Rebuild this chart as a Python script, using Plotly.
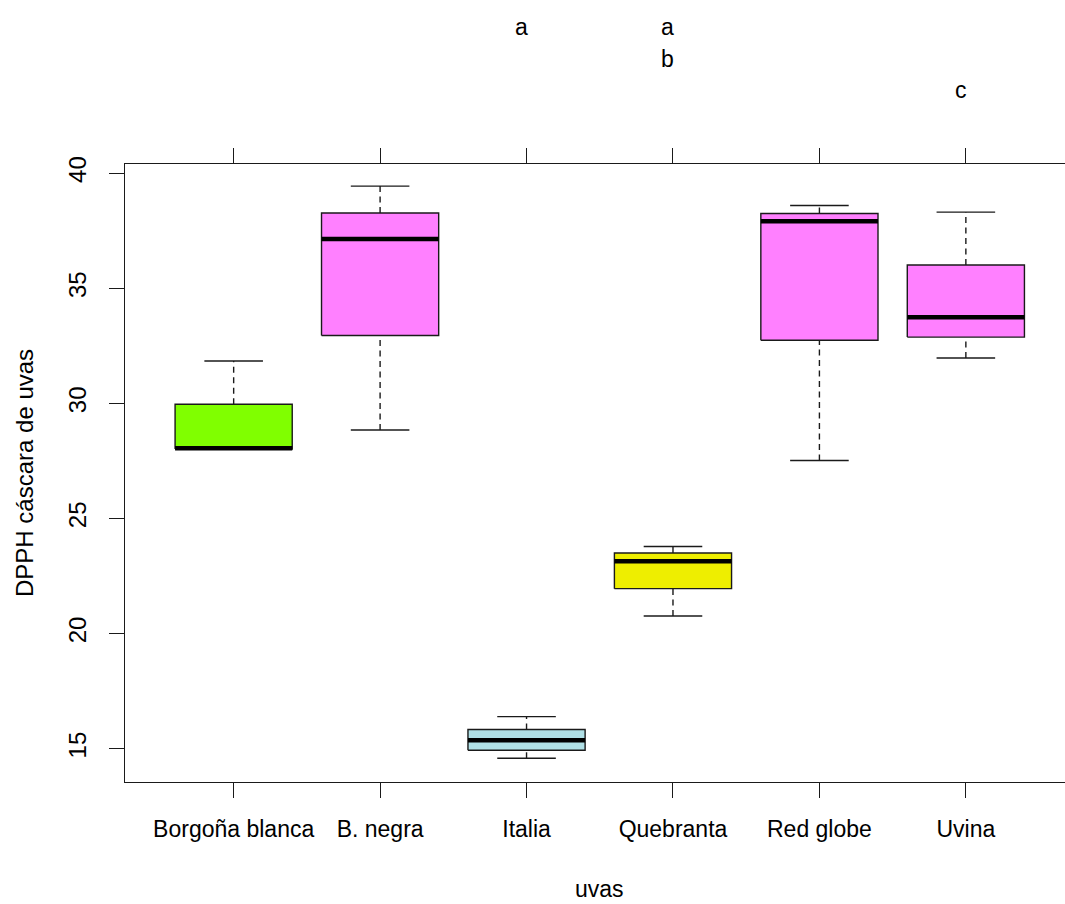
import plotly.graph_objects as go

# DPPH values of grape skins, summarised per variety
uvas = ["Borgoña blanca", "B. negra", "Italia", "Quebranta", "Red globe", "Uvina"]
lower_whisker = [28.00, 28.84, 14.58, 20.76, 27.52, 31.97]
q1 = [28.02, 32.95, 14.93, 21.95, 32.74, 32.88]
median = [28.05, 37.14, 15.36, 23.14, 37.91, 33.74]
q3 = [29.96, 38.27, 15.83, 23.50, 38.25, 36.01]
upper_whisker = [31.84, 39.44, 16.39, 23.78, 38.60, 38.31]
fill_colors = ["#80FF00", "#FF80FF", "#B0E0E6", "#EEEE00", "#FF80FF", "#FF80FF"]
# significance groups written above each variety
groups = ["", "", "a", "ab", "", "c"]
y_ticks = [15, 20, 25, 30, 35, 40]

FONT = "Liberation Sans, Arial, sans-serif"
INK = "#1a1a1a"
BOX_HALF = 0.4
CAP_HALF = 0.2

fig = go.Figure()
positions = list(range(1, len(uvas) + 1))

# dashed whiskers
wx, wy = [], []
for p, lo, a, b, hi in zip(positions, lower_whisker, q1, q3, upper_whisker):
    wx += [p, p, None, p, p, None]
    wy += [b, hi, None, lo, a, None]
fig.add_trace(go.Scatter(x=wx, y=wy, mode="lines", hoverinfo="skip",
                         line=dict(color=INK, width=1.4, dash="6px,4.5px")))

# staples
cx, cy = [], []
for p, lo, hi in zip(positions, lower_whisker, upper_whisker):
    cx += [p - CAP_HALF, p + CAP_HALF, None, p - CAP_HALF, p + CAP_HALF, None]
    cy += [hi, hi, None, lo, lo, None]
fig.add_trace(go.Scatter(x=cx, y=cy, mode="lines", hoverinfo="skip",
                         line=dict(color=INK, width=1.4)))

# boxes
for p, a, b, col in zip(positions, q1, q3, fill_colors):
    fig.add_trace(go.Scatter(
        x=[p - BOX_HALF, p + BOX_HALF, p + BOX_HALF, p - BOX_HALF, p - BOX_HALF],
        y=[a, a, b, b, a], mode="lines", fill="toself", fillcolor=col,
        hoverinfo="skip", line=dict(color=INK, width=1.4)))

# medians
mx, my = [], []
for p, m in zip(positions, median):
    mx += [p - BOX_HALF, p + BOX_HALF, None]
    my += [m, m, None]
fig.add_trace(go.Scatter(x=mx, y=my, mode="lines", hoverinfo="skip",
                         line=dict(color="black", width=4.5)))

annotations = []
for p, g in zip(positions, groups):
    for ch in g:
        row = ord(ch) - ord("a")
        annotations.append(dict(
            x=p, xref="x", y=1, yref="paper", text=ch, showarrow=False,
            xanchor="center", yanchor="middle", xshift=-5,
            yshift=137 - 31.5 * row, font=dict(family=FONT, size=23, color="black")))

annotations.append(dict(x=3.5, xref="x", y=0, yref="paper", text="uvas",
                        showarrow=False, xanchor="center", yanchor="middle",
                        yshift=-107, font=dict(family=FONT, size=23, color="black")))
annotations.append(dict(x=0, xref="paper", y=0.5, yref="paper",
                        text="DPPH cáscara de uvas", textangle=-90, showarrow=False,
                        xanchor="center", yanchor="middle", xshift=-101,
                        font=dict(family=FONT, size=24, color="black")))

fig.update_layout(
    width=1065, height=904,
    margin=dict(l=125, r=0, t=164, b=122),
    paper_bgcolor="white", plot_bgcolor="white",
    showlegend=False,
    annotations=annotations,
    font=dict(family=FONT, color="black"),
    xaxis=dict(range=[0.258, 6.677], tickmode="array", tickvals=positions,
               ticktext=uvas, showgrid=False, zeroline=False,
               showline=True, linecolor=INK, linewidth=1.4, mirror="ticks",
               ticks="outside", ticklen=15, tickwidth=1.4, tickcolor=INK,
               tickfont=dict(family=FONT, size=23, color="black"),
               ticklabelstandoff=11),
    yaxis=dict(range=[13.55, 40.40], tickmode="array", tickvals=y_ticks,
               showgrid=False, zeroline=False, showline=True, linecolor=INK,
               linewidth=1.4, ticks="outside", ticklen=15, tickwidth=1.4,
               tickcolor=INK, tickangle=-90,
               tickfont=dict(family=FONT, size=24, color="black"),
               ticklabelstandoff=13),
)

fig.write_html("out.html")
